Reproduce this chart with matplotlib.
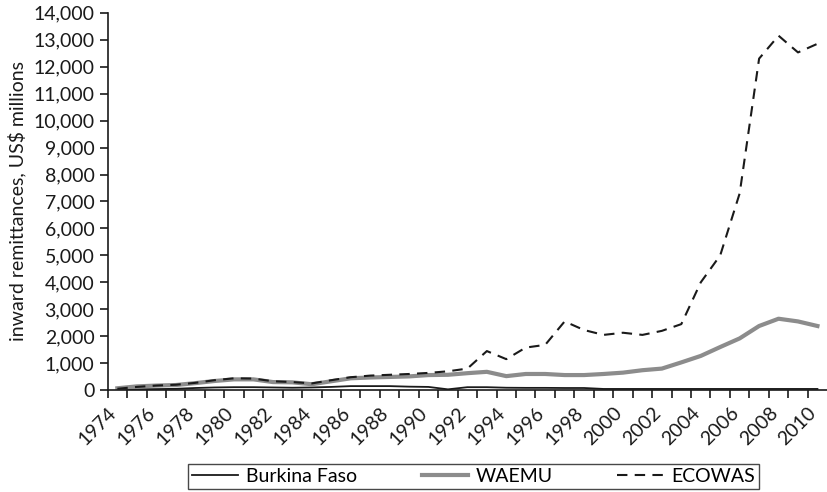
import numpy as np
import matplotlib.pyplot as plt
from matplotlib.ticker import FuncFormatter

plt.rcParams['font.family'] = ['Lato', 'DejaVu Sans']

years = np.arange(1974, 2011)

burkina = [25, 30, 40, 50, 80, 100, 110, 110, 100, 90,
           100, 120, 150, 150, 150, 130, 120, 30, 110, 110,
           90, 85, 85, 80, 80, 45, 45, 45, 45, 45,
           45, 45, 45, 45, 45, 45, 45]

waemu = [70, 140, 170, 190, 260, 340, 400, 400, 300, 290,
         220, 330, 440, 470, 490, 510, 560, 570, 630, 680,
         520, 600, 600, 560, 560, 600, 650, 740, 800, 1030,
         1270, 1600, 1920, 2380, 2650, 2550, 2380]

ecowas = [50, 120, 170, 200, 270, 370, 440, 430, 330, 300,
          250, 370, 480, 540, 570, 600, 640, 700, 800, 1450,
          1150, 1580, 1680, 2550, 2230, 2050, 2130, 2050, 2200, 2450,
          4000, 5000, 7300, 12300, 13150, 12530, 12850]

fig = plt.figure(figsize=(8.28, 4.92), dpi=100)
ax = fig.add_axes([0.130, 0.207, 0.869, 0.767])

# points sit in the middle of each year slot
x = years + 0.5
ax.plot(x, burkina, color='#1a1a1a', lw=1.3, label='Burkina Faso')
ax.plot(x, waemu, color='#8c8c8c', lw=3.0, label='WAEMU')
ax.plot(x, ecowas, color='#1a1a1a', lw=1.5, dashes=(5, 3.5), label='ECOWAS')

ax.set_xlim(1974, 2011)
ax.set_ylim(0, 14000)
ax.set_yticks(np.arange(0, 14001, 1000))
ax.yaxis.set_major_formatter(FuncFormatter(lambda v, p: f'{int(v):,}'))
ax.set_xticks(years)
ax.set_xticklabels([str(y) if y % 2 == 0 else '' for y in years],
                   rotation=45, ha='right', rotation_mode='anchor')

ax.spines['top'].set_visible(False)
ax.spines['right'].set_visible(False)
for s in ['left', 'bottom']:
    ax.spines[s].set_color('#1a1a1a')
    ax.spines[s].set_linewidth(1.2)
ax.tick_params(axis='both', length=6, width=1.2, color='#1a1a1a',
               labelsize=14, labelcolor='#1a1a1a')
ax.tick_params(axis='x', pad=4)

ax.set_ylabel('inward remittances, US$ millions', fontsize=14, color='#1a1a1a',
              labelpad=5)

leg = fig.legend(loc='center', bbox_to_anchor=(0.572, 0.0315), ncol=3,
                 frameon=True, fancybox=False, edgecolor='#1a1a1a',
                 fontsize=14, handlelength=2.4, columnspacing=3.3,
                 borderpad=0.2, handletextpad=0.4, borderaxespad=0)
leg.get_frame().set_linewidth(1.0)

fig.savefig('out.png', dpi=100)
